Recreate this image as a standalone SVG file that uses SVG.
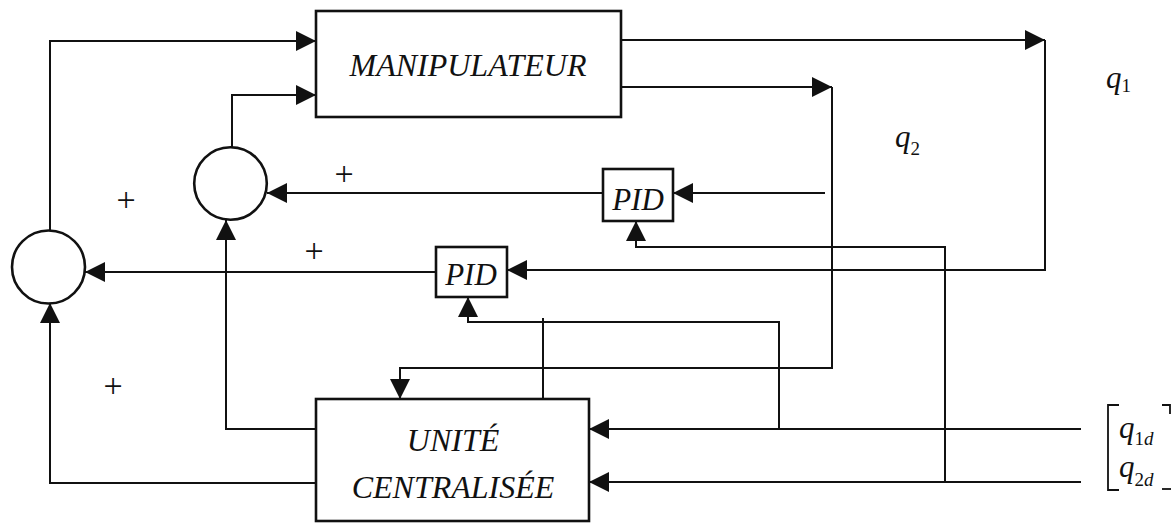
<svg xmlns="http://www.w3.org/2000/svg" width="1171" height="523" viewBox="0 0 1171 523">
  <style>
    .bg { fill: #ffffff; }
    .box { fill: none; stroke: #111; stroke-width: 2.6; }
    .sum { fill: #ffffff; stroke: #111; stroke-width: 2.6; }
    .wire { fill: none; stroke: #111; stroke-width: 2; }
    .arrow { marker-end: url(#head); }
    .label { font-family: "Liberation Serif", "Times New Roman", serif; font-style: italic; fill: #111; }
    .big { font-size: 32px; }
    .pid { font-size: 31px; }
    .sym { font-size: 31px; }
    .sub { font-size: 19px; font-style: normal; }
    .subi { font-size: 19px; font-style: italic; }
    .plus { font-family: "Liberation Serif", "Times New Roman", serif; font-size: 34px; fill: #111; text-anchor: middle; }
    .bracket { fill: none; stroke: #111; stroke-width: 1.8; }
  </style>
  <defs>
    <marker id="head" markerUnits="userSpaceOnUse" markerWidth="21" markerHeight="21" refX="20" refY="10" orient="auto">
      <path d="M0,0 L20,10 L0,20 Z" fill="#111"/>
    </marker>
  </defs>

  <rect class="bg" x="0" y="0" width="1171" height="523"/>

  <!-- connectors -->
  <g id="connectors">
    <!-- outer sum to manipulator, first input -->
    <polyline class="wire arrow" points="50,230 50,41 316,41"/>
    <!-- inner sum to manipulator, second input -->
    <polyline class="wire arrow" points="232,147 232,95 316,95"/>
    <!-- manipulator outputs -->
    <line class="wire arrow" x1="621" y1="40" x2="1045" y2="40"/>
    <line class="wire arrow" x1="621" y1="87" x2="832" y2="87"/>
    <!-- q1 loop back to lower PID -->
    <polyline class="wire arrow" points="1045,40 1045,270 507,270"/>
    <!-- lower PID to outer sum -->
    <line class="wire arrow" x1="436" y1="272" x2="85" y2="272"/>
    <!-- q2 measurement into upper PID -->
    <line class="wire arrow" x1="825" y1="193" x2="673" y2="193"/>
    <!-- upper PID to inner sum -->
    <line class="wire arrow" x1="603" y1="193" x2="267" y2="193"/>
    <!-- q2 loop back to central unit -->
    <polyline class="wire arrow" points="832,87 832,368 400,368 400,399"/>
    <!-- q2d reference into upper PID -->
    <polyline class="wire arrow" points="945,482 945,247 636,247 636,221"/>
    <!-- q1d reference into lower PID -->
    <polyline class="wire arrow" points="779,429 779,322 468,322 468,297"/>
    <!-- central unit stub -->
    <line class="wire" x1="543" y1="399" x2="543" y2="318"/>
    <!-- central unit to inner sum -->
    <polyline class="wire arrow" points="316,429 226,429 226,220"/>
    <!-- central unit to outer sum -->
    <polyline class="wire arrow" points="316,483 50,483 50,303"/>
    <!-- references into central unit -->
    <line class="wire arrow" x1="1081" y1="429" x2="589" y2="429"/>
    <line class="wire arrow" x1="1081" y1="482" x2="589" y2="482"/>
  </g>

  <g id="manipulateur">
    <rect class="box" x="316" y="11" width="305" height="106"/>
    <text class="label big" x="468" y="76" text-anchor="middle">MANIPULATEUR</text>
  </g>

  <g id="unite-centralisee">
    <rect class="box" x="316" y="399" width="273" height="122"/>
    <text class="label big" x="453" y="451" text-anchor="middle">UNITÉ</text>
    <text class="label big" x="453" y="498" text-anchor="middle">CENTRALISÉE</text>
  </g>

  <g id="pid-q2">
    <rect class="box" x="603" y="169" width="70" height="52"/>
    <text class="label pid" x="638" y="210" text-anchor="middle">PID</text>
  </g>

  <g id="pid-q1">
    <rect class="box" x="436" y="247" width="71" height="50"/>
    <text class="label pid" x="471" y="285" text-anchor="middle">PID</text>
  </g>

  <g id="sum-inner">
    <circle class="sum" cx="230.5" cy="183.5" r="36.3"/>
  </g>

  <g id="sum-outer">
    <circle class="sum" cx="48.5" cy="267" r="36.5"/>
  </g>

  <!-- sign marks -->
  <g id="signs">
    <text class="plus" x="126" y="211">+</text>
    <text class="plus" x="344" y="185">+</text>
    <text class="plus" x="314" y="262">+</text>
    <text class="plus" x="113" y="397">+</text>
  </g>

  <!-- signal names -->
  <g id="signal-labels">
    <text class="label sym" x="1106" y="88">q<tspan class="sub" dy="4">1</tspan></text>
    <text class="label sym" x="895" y="147">q<tspan class="sub" dy="8">2</tspan></text>
  </g>

  <g id="reference-vector">
    <path class="bracket" d="M1119,405 H1108 V490 H1119"/>
    <path class="bracket" d="M1162,405 H1170 V414"/>
    <path class="bracket" d="M1162,489 H1171"/>
    <text class="label sym" x="1119" y="438">q<tspan class="sub" dy="7">1</tspan><tspan class="subi">d</tspan></text>
    <text class="label sym" x="1119" y="477">q<tspan class="sub" dy="9">2</tspan><tspan class="subi">d</tspan></text>
  </g>
</svg>
